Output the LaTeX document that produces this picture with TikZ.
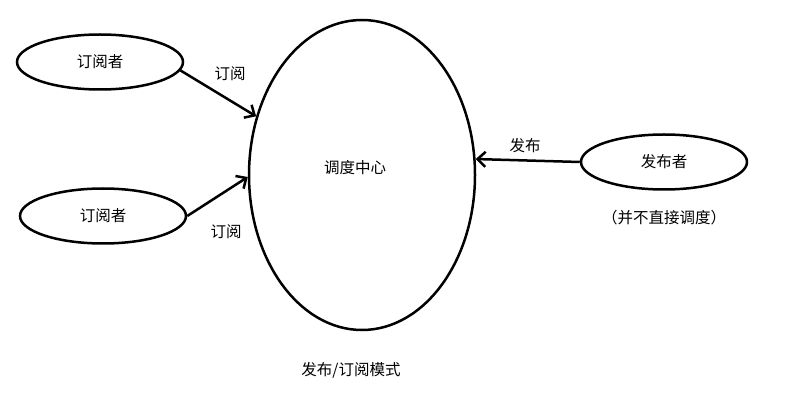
\documentclass[tikz,border=0pt]{standalone}
\usepackage{fontspec}
\newfontfamily\cjk{Noto Sans CJK SC}
\usetikzlibrary{positioning,shapes.geometric,arrows.meta}

\begin{document}
\begin{tikzpicture}[
  x=1pt, y=-1pt,
  actor/.style={ellipse, draw, line width=2.5pt, minimum width=166pt, minimum height=55pt, inner sep=0pt, font=\cjk\fontsize{15.5}{17}\selectfont},
  hub/.style={ellipse, draw, line width=2.5pt, minimum width=226pt, minimum height=310pt, inner sep=0pt},
  lbl/.style={font=\cjk\fontsize{15.5}{17}\selectfont, inner sep=1pt},
  arr/.style={-{Straight Barb[length=8pt,width=15pt]}, line width=2.5pt}
]
\useasboundingbox (0,0) rectangle (790,403);
% nodes
\node[hub] (center) at (362,175) {};
\node[lbl] (hubtext) at (355,168) {调度中心};
\node[actor] (sub1) at (100,62) {订阅者};
\node[actor] (sub2) at (103,216) {订阅者};
\node[actor] (pub) at (664,162) {发布者};
\node[lbl, below=18pt of pub] (note) {（并不直接调度）};
\node[lbl] (title) at (351,370) {发布/订阅模式};
% arrows
\draw[arr] (sub1.-6) -- (center.151);
\draw[arr] (sub2.east) -- (center.181);
\draw[arr] (pub.west) -- (center.8);
\node[lbl] (l1) at (230,74) {订阅};
\node[lbl] (l2) at (226,232) {订阅};
\node[lbl] (l3) at (525,146) {发布};
\end{tikzpicture}
\end{document}
